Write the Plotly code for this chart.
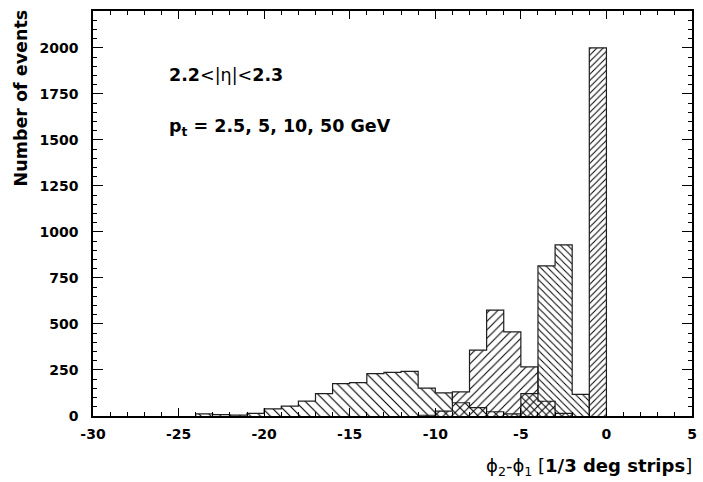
import plotly.graph_objects as go

# ---- data (bin width = 1 strip; values are counts in bins [left, left+1)) ----
pt25_left = [-24, -23, -22, -21, -20, -19, -18, -17, -16, -15, -14, -13, -12, -11, -10, -9, -8, -7, -6]
pt25_counts = [12, 8, 5, 14, 39, 54, 81, 122, 176, 181, 230, 237, 242, 151, 126, 72, 45, 23, 12]

pt5_left = [-11, -10, -9, -8, -7, -6, -5, -4, -3]
pt5_counts = [4, 26, 131, 358, 575, 457, 267, 80, 14]

pt10_left = [-5, -4, -3, -2]
pt10_counts = [122, 815, 930, 117]

pt50_left = [-1]
pt50_counts = [2000]

x_ticks = [-30, -25, -20, -15, -10, -5, 0, 5]
y_ticks = [0, 250, 500, 750, 1000, 1250, 1500, 1750, 2000]

FONT = "DejaVu Sans"

series = [
    (pt25_left, pt25_counts, "\\", 7, 0.16),
    (pt5_left, pt5_counts, "/", 6, 0.18),
    (pt10_left, pt10_counts, "\\", 5, 0.2),
    (pt50_left, pt50_counts, "/", 4.5, 0.22),
]

fig = go.Figure()
for left, counts, shape, size, sol in series:
    centers = [l + 0.5 for l in left]
    fig.add_trace(go.Bar(
        x=centers, y=counts, width=1,
        marker=dict(color="rgba(0,0,0,0)", line=dict(width=0),
                    pattern=dict(shape=shape, size=size, solidity=sol,
                                 fgcolor="black", bgcolor="rgba(0,0,0,0)", fillmode="replace")),
        showlegend=False, hoverinfo="skip",
    ))
    # step outline
    xs = [left[0]] + list(left) + [left[-1] + 1]
    ys = [0] + list(counts) + [0]
    fig.add_trace(go.Scatter(
        x=xs, y=ys, mode="lines", line=dict(shape="hv", color="rgb(30,30,30)", width=1.2),
        showlegend=False, hoverinfo="skip",
    ))

axis_common = dict(
    showline=True, linecolor="black", linewidth=1.5, mirror="allticks",
    ticks="inside", tickcolor="black", tickwidth=1.2,
    showgrid=False, zeroline=False,
    tickfont=dict(family=FONT, size=14, color="black", weight="bold"),
)

fig.update_xaxes(range=[-30, 5], tickvals=x_ticks, ticktext=[str(v) for v in x_ticks], ticklen=8,
                 minor=dict(ticks="inside", dtick=1, ticklen=4, tickcolor="black", tickwidth=1),
                 ticklabelstandoff=4, **axis_common)
fig.update_yaxes(range=[0, 2200], tickvals=y_ticks, ticktext=[str(v) for v in y_ticks], ticklen=10,
                 minor=dict(ticks="inside", dtick=50, ticklen=4, tickcolor="black", tickwidth=1),
                 ticklabelstandoff=10, **axis_common)

fig.add_annotation(
    text="<b>Number of events</b>", textangle=-90, xref="paper", yref="paper",
    x=-0.12, y=1.008, xanchor="center", yanchor="top", showarrow=False,
    font=dict(family=FONT, size=17.5, color="black"),
)
fig.add_annotation(
    text="ϕ<sub>2</sub>-ϕ<sub>1</sub> [<b>1/3 deg strips</b>]", xref="paper", yref="paper",
    x=1.004, y=-0.125, xanchor="right", yanchor="middle", showarrow=False,
    font=dict(family=FONT, size=18, color="black"),
)
fig.add_annotation(
    text="<b>2.2</b>&lt;|η|&lt;<b>2.3</b>", xref="x", yref="y",
    x=-25.65, y=1855, xanchor="left", yanchor="middle", showarrow=False,
    font=dict(family=FONT, size=17.5, color="black"),
)
fig.add_annotation(
    text="<b>p<sub>t</sub> = 2.5, 5, 10, 50 GeV</b>", xref="x", yref="y",
    x=-25.65, y=1567, xanchor="left", yanchor="middle", showarrow=False,
    font=dict(family=FONT, size=17.5, color="black"),
)

fig.update_layout(
    width=703, height=482, barmode="overlay", bargap=0,
    margin=dict(l=93, r=6, t=11, b=66),
    plot_bgcolor="white", paper_bgcolor="white",
)

fig.write_html("out.html")
